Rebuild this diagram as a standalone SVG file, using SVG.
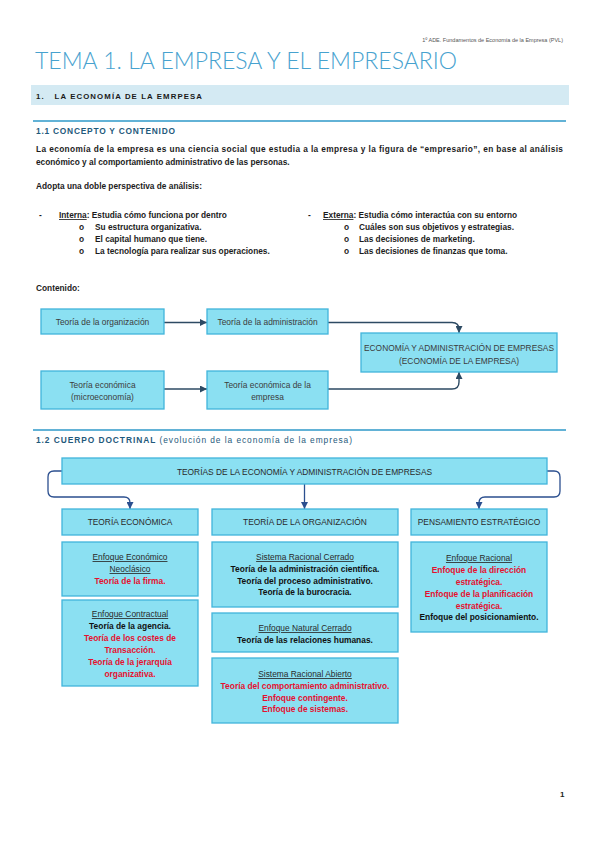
<svg xmlns="http://www.w3.org/2000/svg" width="599" height="848" viewBox="0 0 599 848">
<style>
text{font-family:"Liberation Sans",Arial,sans-serif}
.bx{fill:#8be0f2;stroke:#41b4da;stroke-width:1.3}
.body{font-size:8.3px;font-weight:bold;fill:#1c1c1c}
.d1{font-size:8.4px;fill:#3c3c3c;text-anchor:middle}
.h2{font-size:8.4px;fill:#2a2a2a;text-anchor:middle}
.u{font-size:8.4px;fill:#2a2a2a;text-anchor:middle;text-decoration:underline}
.b{font-size:8.4px;font-weight:bold;fill:#111;text-anchor:middle}
.r{font-size:8.4px;font-weight:bold;fill:#e5102f;text-anchor:middle}
.rule{stroke:#62b2d6;stroke-width:2}
.c1{fill:none;stroke:#2d4a63;stroke-width:1.4}
.c2{fill:none;stroke:#2b4f8f;stroke-width:1.3}
</style>
<defs>
<marker id="a1" viewBox="0 0 10 10" refX="10" refY="5" markerWidth="7" markerHeight="7" orient="auto" markerUnits="userSpaceOnUse"><path d="M0,0 L10,5 L0,10 z" fill="#2d4a63"/></marker>
<marker id="a2" viewBox="0 0 10 10" refX="10" refY="5" markerWidth="7" markerHeight="7" orient="auto" markerUnits="userSpaceOnUse"><path d="M0,0 L10,5 L0,10 z" fill="#2b4f8f"/></marker>
</defs>
<rect width="599" height="848" fill="#fff"/>
<text x="563" y="42" font-size="5.5" fill="#555" text-anchor="end">1º ADE. Fundamentos de Economía de la Empresa (PVL)</text>
<text x="35" y="69" font-size="24" fill="#47a2cf" style="font-family:Lato,'Liberation Sans',sans-serif;font-weight:300" textLength="422" lengthAdjust="spacingAndGlyphs">TEMA 1. LA EMPRESA Y EL EMPRESARIO</text>
<rect x="31" y="85" width="538" height="20" fill="#d4eaf3"/>
<text x="36" y="99" font-size="7.8" font-weight="bold" fill="#1a1a1a" textLength="166" xml:space="preserve">1.   LA ECONOMÍA DE LA EMRPESA</text>
<line class="rule" x1="33" y1="121" x2="566" y2="121"/>
<text x="36" y="134" font-size="8.4" font-weight="bold" fill="#1f5a7c" textLength="139">1.1 CONCEPTO Y CONTENIDO</text>
<text class="body" x="36" y="152" textLength="527">La economía de la empresa es una ciencia social que estudia a la empresa y la figura de “empresario”, en base al análisis</text>
<text class="body" x="36" y="164.5">económico y al comportamiento administrativo de las personas.</text>
<text class="body" x="36" y="189">Adopta una doble perspectiva de análisis:</text>
<text class="body" x="39" y="218">-</text>
<text class="body" x="59" y="218"><tspan text-decoration="underline">Interna</tspan>: Estudia cómo funciona por dentro</text>
<text class="body" x="79" y="230">o</text><text class="body" x="95" y="230">Su estructura organizativa.</text>
<text class="body" x="79" y="242">o</text><text class="body" x="95" y="242">El capital humano que tiene.</text>
<text class="body" x="79" y="254">o</text><text class="body" x="95" y="254">La tecnología para realizar sus operaciones.</text>
<text class="body" x="308" y="218">-</text>
<text class="body" x="323" y="218"><tspan text-decoration="underline">Externa</tspan>: Estudia cómo interactúa con su entorno</text>
<text class="body" x="344" y="230">o</text><text class="body" x="359" y="230">Cuáles son sus objetivos y estrategias.</text>
<text class="body" x="344" y="242">o</text><text class="body" x="359" y="242">Las decisiones de marketing.</text>
<text class="body" x="344" y="254">o</text><text class="body" x="359" y="254">Las decisiones de finanzas que toma.</text>
<text class="body" x="36" y="291">Contenido:</text>
<g id="connectors1">
<path class="c1" d="M164,322.5 H207" marker-end="url(#a1)"/>
<path class="c1" d="M164,389 H207" marker-end="url(#a1)"/>
<path class="c1" d="M328,322.5 H452 Q459,322.5 459,329.5 V333" marker-end="url(#a1)"/>
<path class="c1" d="M328,389 H452 Q459,389 459,382 V372" marker-end="url(#a1)"/>
</g>
<g id="n-org"><rect class="bx" x="41" y="309" width="123" height="25"/><text class="d1" x="102.5" y="325">Teoría de la organización</text></g>
<g id="n-adm"><rect class="bx" x="207" y="309" width="121" height="25"/><text class="d1" x="267.5" y="325">Teoría de la administración</text></g>
<g id="n-eae"><rect class="bx" x="361" y="333" width="196" height="39"/><text class="d1" x="459" y="351">ECONOMÍA Y ADMINISTRACIÓN DE EMPRESAS</text><text class="d1" x="459" y="364">(ECONOMÍA DE LA EMPRESA)</text></g>
<g id="n-eco"><rect class="bx" x="41" y="371" width="123" height="38"/><text class="d1" x="102.5" y="388">Teoría económica</text><text class="d1" x="102.5" y="400">(microeconomía)</text></g>
<g id="n-ecoe"><rect class="bx" x="207" y="371" width="121" height="38"/><text class="d1" x="267.5" y="388">Teoría económica de la</text><text class="d1" x="267.5" y="400">empresa</text></g>
<line class="rule" x1="33" y1="430" x2="566" y2="430"/>
<text x="36" y="443" font-size="8.4" fill="#1f5a7c" textLength="316"><tspan font-weight="bold">1.2 CUERPO DOCTRINAL</tspan> (evolución de la economía de la empresa)</text>
<g id="connectors2">
<path class="c2" d="M62,471 H54 Q48,471 48,477 V491 Q48,497 54,497 H124 Q130,497 130,503 V509" marker-end="url(#a2)"/>
<path class="c2" d="M304.5,484 V509" marker-end="url(#a2)"/>
<path class="c2" d="M547,471 H554 Q560,471 560,477 V491 Q560,497 554,497 H485 Q479,497 479,503 V509" marker-end="url(#a2)"/>
</g>
<g id="n-top"><rect class="bx" x="62" y="458" width="485" height="26"/><text class="h2" x="304.5" y="474.5">TEORÍAS DE LA ECONOMÍA Y ADMINISTRACIÓN DE EMPRESAS</text></g>
<g id="n-te"><rect class="bx" x="62" y="509" width="136" height="26"/><text class="h2" x="130" y="525">TEORÍA ECONÓMICA</text></g>
<g id="n-to"><rect class="bx" x="212" y="509" width="186" height="26"/><text class="h2" x="305" y="525">TEORÍA DE LA ORGANIZACIÓN</text></g>
<g id="n-pe"><rect class="bx" x="411" y="509" width="136" height="26"/><text class="h2" x="479" y="525">PENSAMIENTO ESTRATÉGICO</text></g>
<g id="n-te1"><rect class="bx" x="62" y="542" width="136" height="54"/>
<text class="u" x="130" y="560">Enfoque Económico </text><text class="u" x="130" y="572">Neoclásico</text><text class="r" x="130" y="583.5">Teoría de la firma.</text></g>
<g id="n-te2"><rect class="bx" x="62" y="600" width="136" height="86"/>
<text class="u" x="130" y="617">Enfoque Contractual</text><text class="b" x="130" y="629">Teoría de la agencia.</text><text class="r" x="130" y="641">Teoría de los costes de</text><text class="r" x="130" y="653">Transacción.</text><text class="r" x="130" y="665">Teoría de la jerarquía</text><text class="r" x="130" y="677">organizativa.</text></g>
<g id="n-to1"><rect class="bx" x="212" y="542" width="186" height="65"/>
<text class="u" x="305" y="560">Sistema Racional Cerrado</text><text class="b" x="305" y="572">Teoría de la administración científica.</text><text class="b" x="305" y="583.5">Teoría del proceso administrativo.</text><text class="b" x="305" y="595">Teoría de la burocracia.</text></g>
<g id="n-to2"><rect class="bx" x="212" y="613" width="186" height="39"/>
<text class="u" x="305" y="631">Enfoque Natural Cerrado</text><text class="b" x="305" y="642.5">Teoría de las relaciones humanas.</text></g>
<g id="n-to3"><rect class="bx" x="212" y="658" width="186" height="65"/>
<text class="u" x="305" y="677">Sistema Racional Abierto</text><text class="r" x="305" y="689">Teoría del comportamiento administrativo.</text><text class="r" x="305" y="700.5">Enfoque contingente.</text><text class="r" x="305" y="712">Enfoque de sistemas.</text></g>
<g id="n-pe1"><rect class="bx" x="411" y="542" width="136" height="90"/>
<text class="u" x="479" y="561">Enfoque Racional</text><text class="r" x="479" y="573">Enfoque de la dirección</text><text class="r" x="479" y="585">estratégica.</text><text class="r" x="479" y="597">Enfoque de la planificación</text><text class="r" x="479" y="608.5">estratégica.</text><text class="b" x="479" y="620">Enfoque del posicionamiento.</text></g>
<text x="560" y="797" font-size="8" font-weight="bold" fill="#222">1</text>
</svg>
